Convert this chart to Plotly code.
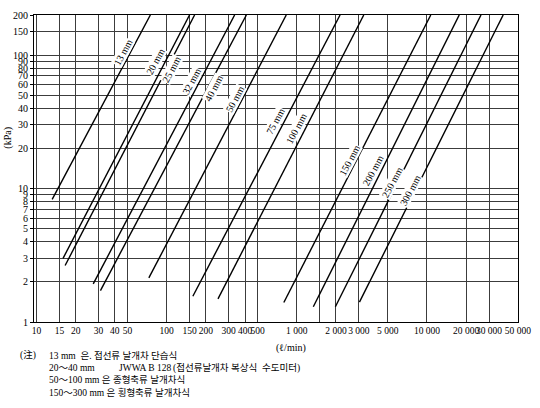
import numpy as np
import plotly.graph_objects as go

# ---- data ----
sizes = ["13 mm", "20 mm", "25 mm", "32 mm", "40 mm", "50 mm",
         "75 mm", "100 mm", "150 mm", "200 mm", "250 mm", "300 mm"]
flow_low = [13.2, 16.0, 16.6, 27.3, 31.0, 73.0, 159.0, 248.0, 795.0, 1340.0, 1980.0, 3030.0]
loss_low = [8.3, 3.0, 2.65, 1.93, 1.72, 2.14, 1.56, 1.49, 1.40, 1.30, 1.30, 1.41]
flow_high = [75.0, 150.0, 164.0, 333.0, 410.0, 830.0, 2150.0, 3270.0, 10700.0, 17700.0, 26000.0, 38500.0]
loss_high = [200, 200, 200, 200, 200, 200, 200, 200, 200, 200, 200, 200]

x_tickvals = [10, 15, 20, 30, 40, 50, 100, 150, 200, 300, 400, 500,
              1000, 1500, 2000, 3000, 5000, 10000, 20000, 30000, 50000]
x_ticktext = ["10", "15", "20", "30", "40", "50", "100", "150", "200", "300", "400", "500",
              "1 000", "", "2 000", "3 000", "5 000", "10 000", "20 000", "30 000", "50 000"]
y_tickvals = [1, 2, 3, 4, 5, 6, 7, 8, 9, 10, 20, 30, 40, 50, 60, 70, 80, 90, 100, 150, 200]
y_ticktext = [str(v) for v in y_tickvals]

# ---- layout helpers (label placement) ----
label_flow = [47.8, 85.5, 113.4, 161.4, 238, 345, 711, 1031, 2628, 4014, 5616, 7720]
label_loss = [105, 88.9, 77.6, 63.2, 56.2, 46.7, 31.6, 28.1, 16.3, 13.55, 11.07, 9.66]

SERIF = "Liberation Serif, Times New Roman, Noto Sans CJK KR, serif"
KR = "Liberation Serif, Noto Sans CJK KR, serif"

fig = go.Figure()
for name, x0, y0, x1, y1 in zip(sizes, flow_low, loss_low, flow_high, loss_high):
    fig.add_trace(go.Scatter(x=[x0, x1], y=[y0, y1], mode="lines", name=name,
                             line=dict(color="black", width=1.4), showlegend=False,
                             hoverinfo="name"))

annotations = []
for name, fx, fy in zip(sizes, label_flow, label_loss):
    annotations.append(dict(x=np.log10(fx), y=np.log10(fy), xref="x", yref="y",
                            text=name, showarrow=False, textangle=-62,
                            xshift=-2,
                            font=dict(family=SERIF, size=10, color="black"),
                            bgcolor="white", borderpad=0))

# axis titles
annotations.append(dict(x=(292 - 34) / 485, y=(322 - 348) / 313, xref="paper", yref="paper",
                        text="(ℓ/min)", showarrow=False, xanchor="center", yanchor="middle",
                        font=dict(family=SERIF, size=10, color="black")))
annotations.append(dict(x=(8 - 34) / 485, y=(322 - 134) / 313, xref="paper", yref="paper",
                        text="(kPa)", showarrow=False, textangle=-90,
                        xanchor="center", yanchor="middle",
                        font=dict(family=SERIF, size=10, color="black")))

# notes
def px(xp):
    return (xp - 34) / 485

def py(yp):
    return (322 - yp) / 313

notes = [
    (18, 356, "(注)"),
    (47, 356, "13 mm  은. 접선류 날개차 단습식"),
    (47, 369, "20～40 mm"),
    (117, 369, "JWWA B 128"),
    (171, 369, "(접선류날개차 복상식  수도미터)"),
    (47, 381, "50～100 mm 은 종형축류 날개차식"),
    (47, 394, "150～300 mm 은 횡형축류 날개차식"),
]
for xp, yp, t in notes:
    annotations.append(dict(x=px(xp), y=py(yp), xref="paper", yref="paper", text=t,
                            showarrow=False, xanchor="left", yanchor="middle",
                            font=dict(family=KR, size=9.5, color="black")))

fig.update_layout(
    width=540, height=408,
    margin=dict(l=34, r=21, t=9, b=86),
    paper_bgcolor="white", plot_bgcolor="white",
    annotations=annotations,
    showlegend=False,
)
fig.update_xaxes(type="log", range=[0.981, np.log10(50000) + 0.0005],
                 tickmode="array", tickvals=x_tickvals, ticktext=x_ticktext,
                 tickangle=0, ticklabeloverflow="allow",
                 showgrid=True, gridcolor="#3c3c3c", gridwidth=1,
                 showline=True, linecolor="black", linewidth=1, mirror=True,
                 ticks="", tickfont=dict(family=SERIF, size=9.5, color="black"),
                 zeroline=False)
fig.update_yaxes(type="log", range=[0, np.log10(200)],
                 tickmode="array", tickvals=y_tickvals, ticktext=y_ticktext,
                 showgrid=True, gridcolor="#3c3c3c", gridwidth=1,
                 showline=True, linecolor="black", linewidth=1, mirror=True,
                 ticks="outside", ticklen=3, tickcolor="black",
                 tickfont=dict(family=SERIF, size=10, color="black"),
                 zeroline=False)

fig.write_html("out.html",
               config={"displayModeBar": False},
               post_script="document.body.style.margin='0';document.body.style.padding='0';")
